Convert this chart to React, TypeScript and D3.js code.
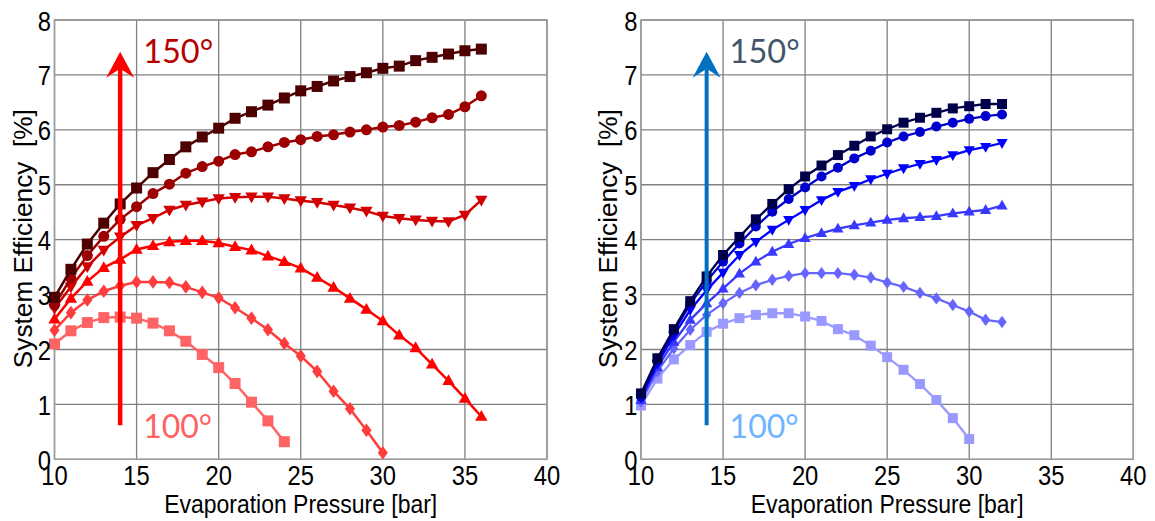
import React, { useEffect } from "react";
import * as d3 from "d3";

// ---------- data ----------
const PRESSURES = [10, 11, 12, 13, 14, 15, 16, 17, 18, 19, 20, 21, 22, 23, 24, 25, 26, 27, 28, 29, 30, 31, 32, 33, 34, 35, 36];
const TEMPERATURES = ["100°", "110°", "120°", "130°", "140°", "150°"];
const X_TICKS = [10, 15, 20, 25, 30, 35, 40];
const Y_TICKS = [0, 1, 2, 3, 4, 5, 6, 7, 8];

const LEFT_100 = [2.10, 2.34, 2.49, 2.58, 2.59, 2.57, 2.48, 2.34, 2.15, 1.91, 1.67, 1.38, 1.04, 0.70, 0.32];
const LEFT_110 = [2.35, 2.67, 2.90, 3.06, 3.16, 3.23, 3.23, 3.22, 3.14, 3.04, 2.94, 2.76, 2.57, 2.36, 2.11, 1.88, 1.60, 1.24, 0.92, 0.53, 0.12];
const LEFT_120 = [2.55, 2.93, 3.24, 3.49, 3.64, 3.82, 3.89, 3.96, 3.98, 3.98, 3.94, 3.87, 3.81, 3.70, 3.60, 3.48, 3.31, 3.13, 2.93, 2.73, 2.52, 2.26, 2.03, 1.73, 1.43, 1.11, 0.78];
const LEFT_130 = [2.75, 3.14, 3.51, 3.81, 4.05, 4.26, 4.39, 4.54, 4.63, 4.69, 4.75, 4.77, 4.78, 4.78, 4.75, 4.71, 4.68, 4.63, 4.58, 4.52, 4.43, 4.39, 4.36, 4.34, 4.33, 4.45, 4.72];
const LEFT_140 = [2.81, 3.30, 3.71, 4.06, 4.37, 4.60, 4.84, 5.01, 5.21, 5.33, 5.43, 5.55, 5.60, 5.69, 5.77, 5.82, 5.88, 5.91, 5.96, 6.00, 6.05, 6.08, 6.14, 6.22, 6.28, 6.42, 6.62];
const LEFT_150 = [2.95, 3.46, 3.92, 4.30, 4.65, 4.94, 5.22, 5.46, 5.69, 5.87, 6.03, 6.21, 6.33, 6.45, 6.58, 6.71, 6.79, 6.89, 6.97, 7.04, 7.12, 7.16, 7.26, 7.32, 7.38, 7.44, 7.47];

const RIGHT_100 = [0.98, 1.47, 1.82, 2.08, 2.32, 2.47, 2.57, 2.63, 2.66, 2.66, 2.60, 2.52, 2.37, 2.26, 2.07, 1.86, 1.63, 1.37, 1.08, 0.75, 0.37];
const RIGHT_110 = [1.05, 1.60, 2.02, 2.36, 2.63, 2.84, 3.03, 3.17, 3.27, 3.34, 3.39, 3.39, 3.39, 3.36, 3.31, 3.22, 3.14, 3.03, 2.93, 2.81, 2.69, 2.54, 2.50];
const RIGHT_120 = [1.08, 1.68, 2.14, 2.54, 2.84, 3.11, 3.38, 3.60, 3.78, 3.92, 4.03, 4.12, 4.20, 4.26, 4.31, 4.36, 4.39, 4.41, 4.43, 4.48, 4.51, 4.54, 4.62];
const RIGHT_130 = [1.12, 1.74, 2.25, 2.72, 3.08, 3.40, 3.72, 3.96, 4.18, 4.36, 4.54, 4.72, 4.87, 4.98, 5.10, 5.20, 5.30, 5.38, 5.45, 5.54, 5.63, 5.69, 5.76];
const RIGHT_140 = [1.14, 1.78, 2.32, 2.83, 3.24, 3.60, 3.93, 4.24, 4.51, 4.74, 4.95, 5.15, 5.31, 5.48, 5.62, 5.77, 5.88, 5.96, 6.06, 6.13, 6.20, 6.25, 6.28];
const RIGHT_150 = [1.20, 1.84, 2.37, 2.88, 3.33, 3.72, 4.05, 4.37, 4.65, 4.92, 5.15, 5.35, 5.54, 5.71, 5.88, 6.01, 6.13, 6.22, 6.31, 6.39, 6.43, 6.47, 6.47];

const LEFT_SERIES = [LEFT_100, LEFT_110, LEFT_120, LEFT_130, LEFT_140, LEFT_150];
const RIGHT_SERIES = [RIGHT_100, RIGHT_110, RIGHT_120, RIGHT_130, RIGHT_140, RIGHT_150];

const RED_COLORS = ["#ff6464", "#ff3c3c", "#ff0000", "#d20000", "#9c0000", "#4e0000"];
const BLUE_COLORS = ["#9999ff", "#6666ff", "#3838ff", "#0000ff", "#0000cc", "#00004a"];
const MARKERS = ["square", "diamond", "triangle", "triangleDown", "circle", "square"];

// ---------- layout ----------
const W = 1155;
const H = 521;
const PLOT_TOP = 20;
const PLOT_BOTTOM = 459.3;

const markerPath = (kind: string, s: number) => {
  const p = d3.path();
  if (kind === "square") {
    const h = s / 2;
    p.rect(-h, -h, s, s);
  } else if (kind === "circle") {
    p.arc(0, 0, s / 2, 0, Math.PI * 2);
  } else if (kind === "diamond") {
    const hy = s * 0.62, hx = s * 0.46;
    p.moveTo(0, -hy); p.lineTo(hx, 0); p.lineTo(0, hy); p.lineTo(-hx, 0); p.closePath();
  } else if (kind === "triangle") {
    const hw = s * 0.56, ht = s * 0.98;
    p.moveTo(0, -ht * 0.6); p.lineTo(hw, ht * 0.4); p.lineTo(-hw, ht * 0.4); p.closePath();
  } else if (kind === "triangleDown") {
    const hw = s * 0.56, ht = s * 0.98;
    p.moveTo(0, ht * 0.6); p.lineTo(hw, -ht * 0.4); p.lineTo(-hw, -ht * 0.4); p.closePath();
  }
  return p.toString();
};

type PanelProps = {
  left: number;
  right: number;
  series: number[][];
  colors: string[];
  arrowColor: string;
  arrowWidth: number;
  topColor: string;
  bottomColor: string;
  markerSize: number;
  lineWidth: number;
  yTitleX: number;
};

function Panel(props: PanelProps) {
  const { left, right, series, colors, arrowColor, arrowWidth, topColor, bottomColor, markerSize, lineWidth, yTitleX } = props;
  const x = d3.scaleLinear().domain([10, 40]).range([left, right]);
  const y = d3.scaleLinear().domain([0, 8]).range([PLOT_BOTTOM, PLOT_TOP]);
  const line = d3.line<[number, number]>().x((d) => x(d[0])).y((d) => y(d[1]));
  const font = "'Liberation Sans', Arial, sans-serif";
  const labelFont = "Lato, 'Open Sans', sans-serif";

  const ax = x(14);
  const tipY = y(7.42);
  const baseY = y(0.62);
  const ah = 26, aw = 14, notch = 17;
  const arrowHead = `M${ax},${tipY} L${ax + aw},${tipY + ah} L${ax},${tipY + notch} L${ax - aw},${tipY + ah} Z`;

  return (
    <g>
      {/* grid */}
      {X_TICKS.map((t) => (
        <line key={"gx" + t} x1={x(t)} x2={x(t)} y1={PLOT_TOP} y2={PLOT_BOTTOM} stroke="#808080" strokeWidth={1.3} />
      ))}
      {Y_TICKS.map((t) => (
        <line key={"gy" + t} x1={left} x2={right} y1={y(t)} y2={y(t)} stroke="#808080" strokeWidth={1.3} />
      ))}
      <rect x={left} y={PLOT_TOP} width={right - left} height={PLOT_BOTTOM - PLOT_TOP} fill="none" stroke="#9a9a9a" strokeWidth={1.5} />

      {/* series */}
      {series.map((vals, si) => {
        const pts: [number, number][] = vals.map((v, i) => [PRESSURES[i], v]);
        return (
          <g key={"s" + si}>
            <path d={line(pts) || ""} fill="none" stroke={colors[si]} strokeWidth={lineWidth} />
            {pts.map((p, i) => (
              <path
                key={i}
                d={markerPath(MARKERS[si], markerSize)}
                transform={`translate(${x(p[0])},${y(p[1])})`}
                fill={colors[si]}
              />
            ))}
          </g>
        );
      })}

      {/* arrow */}
      <line x1={ax} x2={ax} y1={baseY} y2={tipY + notch} stroke={arrowColor} strokeWidth={arrowWidth} />
      <path d={arrowHead} fill={arrowColor} />
      <text x={x(15.4)} y={y(7.22)} fontFamily={labelFont} fontSize={33} fill={topColor} textLength={70} lengthAdjust="spacingAndGlyphs">
        {TEMPERATURES[5]}
      </text>
      <text x={x(15.4)} y={y(0.38)} fontFamily={labelFont} fontSize={33} fill={bottomColor} textLength={69} lengthAdjust="spacingAndGlyphs">
        {TEMPERATURES[0]}
      </text>

      {/* y tick labels */}
      {Y_TICKS.map((t) => (
        <text
          key={"yl" + t}
          transform={`translate(${left - 3.5},${y(t) + 1}) scale(0.88,1)`}
          textAnchor="end"
          dominantBaseline="central"
          fontFamily={font}
          fontSize={27}
          fill="#000"
        >
          {t}
        </text>
      ))}
      {/* x tick labels */}
      {X_TICKS.map((t) => (
        <text
          key={"xl" + t}
          transform={`translate(${x(t)},485) scale(0.88,1)`}
          textAnchor="middle"
          fontFamily={font}
          fontSize={27}
          fill="#000"
        >
          {t}
        </text>
      ))}
      {/* axis titles */}
      <text
        x={(left + right) / 2}
        y={513}
        textAnchor="middle"
        fontFamily={font}
        fontSize={26}
        textLength={273}
        lengthAdjust="spacingAndGlyphs"
        fill="#000"
      >
        Evaporation Pressure [bar]
      </text>
      <text
        transform={`translate(${yTitleX},${(PLOT_TOP + PLOT_BOTTOM) / 2 - 1}) rotate(-90)`}
        textAnchor="middle"
        fontFamily={font}
        fontSize={25.5}
        textLength={259}
        lengthAdjust="spacingAndGlyphs"
        fill="#000"
        style={{ whiteSpace: "pre" }}
      >
        {"System Efficiency  [%]"}
      </text>
    </g>
  );
}

export default function App() {
  useEffect(() => {
    document.body.style.margin = "0";
  }, []);
  return (
    <svg
      width={W}
      height={H}
      viewBox={`0 0 ${W} ${H}`}
      style={{ position: "absolute", left: 0, top: 0, background: "#fff", display: "block" }}
    >
      <rect x={0} y={0} width={W} height={H} fill="#fff" />
      <Panel
        left={54.5}
        right={547}
        series={LEFT_SERIES}
        colors={RED_COLORS}
        arrowColor="#ff0000"
        arrowWidth={4.5}
        topColor="#b80000"
        bottomColor="#ff6060"
        markerSize={11}
        lineWidth={2.5}
        yTitleX={31.5}
      />
      <Panel
        left={641}
        right={1133.3}
        series={RIGHT_SERIES}
        colors={BLUE_COLORS}
        arrowColor="#0070c0"
        arrowWidth={4}
        topColor="#44546a"
        bottomColor="#6fb4ff"
        markerSize={10}
        lineWidth={2.3}
        yTitleX={616.5}
      />
    </svg>
  );
}
